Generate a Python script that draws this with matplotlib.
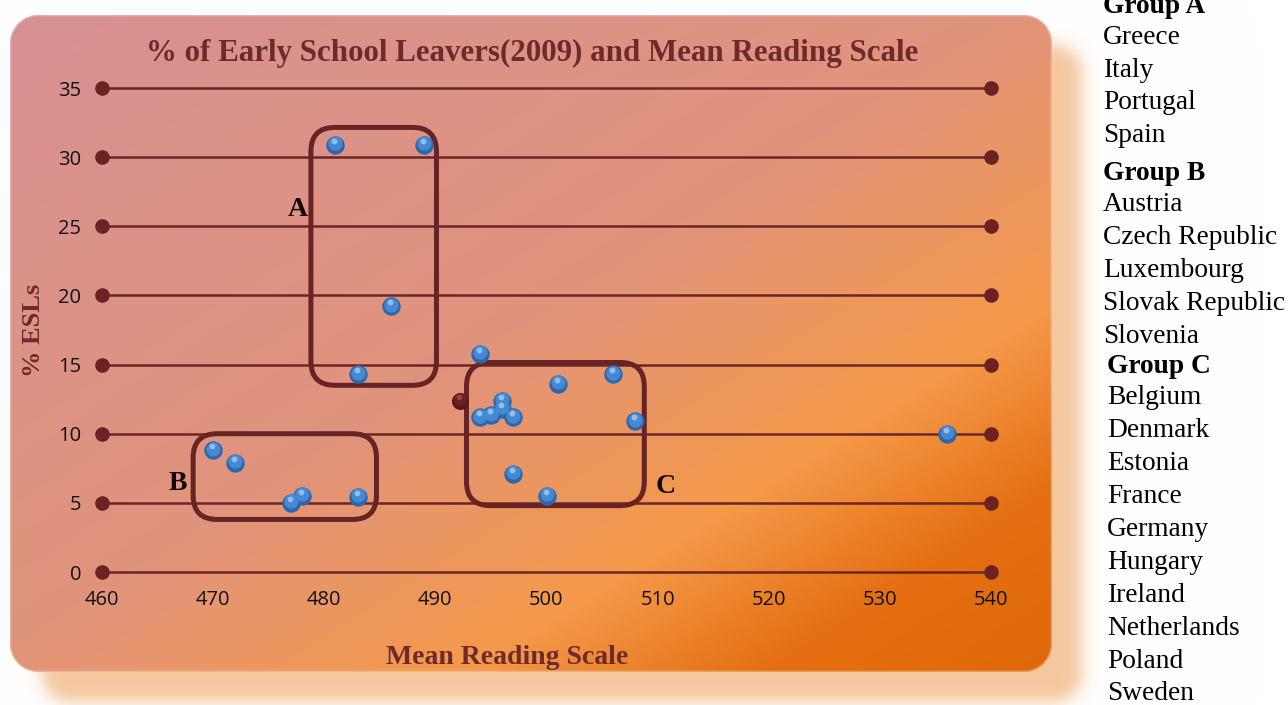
import numpy as np
import matplotlib
matplotlib.use("Agg")
import matplotlib.pyplot as plt
from matplotlib.patches import FancyBboxPatch
from matplotlib.transforms import ScaledTranslation

# ---------------- data ----------------
group_a_x = [481, 489, 486, 483]
group_a_y = [30.9, 30.9, 19.2, 14.3]
group_b_x = [470, 472, 477, 478, 483]
group_b_y = [8.8, 7.9, 5.0, 5.5, 5.45]
group_c_x = [494, 494, 495, 496, 496, 497, 501, 506, 508, 497, 500]
group_c_y = [15.8, 11.2, 11.35, 12.4, 11.8, 11.2, 13.6, 14.3, 10.9, 7.1, 5.5]
other_x = [536]
other_y = [10.0]
marked_x = [492.2]
marked_y = [12.4]

x_ticks = [460, 470, 480, 490, 500, 510, 520, 530, 540]
y_ticks = [0, 5, 10, 15, 20, 25, 30, 35]

# group frames (data units: x0, y0, x1, y1) and labels
frame_names = ["A", "B", "C"]
frame_extents = [(478.8, 13.5, 490.1, 32.15),
                 (468.2, 3.8, 484.7, 10.0),
                 (492.8, 4.8, 508.8, 15.15)]
label_pos = [(477.6, 26.2), (466.8, 6.4), (510.7, 6.2)]

title = "% of Early School Leavers(2009) and Mean Reading Scale"
xlabel = "Mean Reading Scale"
ylabel = "% ESLs"

side_lines = ["Group A", "Greece", "Italy", "Portugal", "Spain",
              "Group B", "Austria", "Czech Republic", "Luxembourg",
              "Slovak Republic", "Slovenia",
              "Group C", "Belgium", "Denmark", "Estonia", "France", "Germany",
              "Hungary", "Ireland", "Netherlands", "Poland", "Sweden"]
side_y = [5, 36, 69, 101, 134, 172, 203, 236, 269, 302, 335, 365, 396, 429,
          462, 495, 528, 561, 594, 627, 660, 692]

# ---------------- figure ----------------
W, H = 1288, 705
fig = plt.figure(figsize=(W / 100, H / 100), dpi=100)

# background: shadow + gradient rounded panel
yy, xx = np.mgrid[0:H, 0:W] + 0.5


def rr_sd(x0, y0, x1, y1, r):
    cx, cy = (x0 + x1) / 2, (y0 + y1) / 2
    bx, by = (x1 - x0) / 2, (y1 - y0) / 2
    qx = np.abs(xx - cx) - bx + r
    qy = np.abs(yy - cy) - by + r
    outside = np.sqrt(np.maximum(qx, 0) ** 2 + np.maximum(qy, 0) ** 2)
    inside = np.minimum(np.maximum(qx, qy), 0)
    return outside + inside - r


img = np.ones((H, W, 3))
sd_sh = rr_sd(42, 45, 1082, 702, 30)
a_sh = 1 / (1 + np.exp(np.clip(sd_sh / 5.0, -50, 50)))
sh_col = np.array([244, 199, 158]) / 255
img = img * (1 - a_sh[..., None]) + sh_col * a_sh[..., None]

bx0, by0, bx1, by1 = 10, 15, 1052, 672
sd_box = rr_sd(bx0, by0, bx1, by1, 28)
t = ((xx - bx0) / (bx1 - bx0) + (yy - by0) / (by1 - by0)) / 2
stops_t = [0.0, 0.48, 0.72, 0.86, 1.0]
stops_c = np.array([[216, 145, 148], [225, 148, 124], [245, 153, 74],
                    [229, 111, 18], [224, 104, 8]]) / 255
grad = np.stack([np.interp(t, stops_t, stops_c[:, k]) for k in range(3)], axis=-1)
a_box = np.clip(0.5 - sd_box, 0, 1)
img = img * (1 - a_box[..., None]) + grad * a_box[..., None]
ring = np.clip(1 - np.abs(sd_box + 0.7) / 1.2, 0, 1) * 0.45
img = img * (1 - ring[..., None]) + np.array([0.93, 0.91, 0.89]) * ring[..., None]

bg = fig.add_axes([0, 0, 1, 1], zorder=0)
bg.imshow(img, extent=(0, W, 0, H), origin="upper", interpolation="nearest",
          aspect="auto")
bg.set_xlim(0, W)
bg.set_ylim(0, H)
bg.axis("off")

# main axes
ax = fig.add_axes([102 / W, 133 / H, 889 / W, 484 / H], zorder=1)
ax.set_facecolor("none")
ax.set_xlim(x_ticks[0], x_ticks[-1])
ax.set_ylim(y_ticks[0], y_ticks[-1])
for s in ax.spines.values():
    s.set_visible(False)

grid_col = "#6b2626"
for yv in y_ticks:
    ax.plot([x_ticks[0], x_ticks[-1]], [yv, yv], color=grid_col, lw=1.8,
            marker="o", ms=9.5, mfc="#6b2222", mec="#6b2222",
            clip_on=False, zorder=1.5)

tick_font = ["Open Sans", "DejaVu Sans"]
ax.set_xticks(x_ticks)
ax.set_yticks(y_ticks)
ax.set_xticklabels([str(v) for v in x_ticks], family=tick_font, fontsize=14.5,
                   color="#111111")
ax.set_yticklabels([str(v) for v in y_ticks], family=tick_font, fontsize=14.5,
                   color="#111111")
ax.tick_params(axis="x", length=0, pad=13)
ax.tick_params(axis="y", length=0, pad=15)

# group frames
fig.canvas.draw()
for (x0, y0, x1, y1) in frame_extents:
    p0 = ax.transData.transform((x0, y0))
    p1 = ax.transData.transform((x1, y1))
    patch = FancyBboxPatch((p0[0], p0[1]), p1[0] - p0[0], p1[1] - p0[1],
                           boxstyle="round,pad=0,rounding_size=24",
                           fill=False, ec="#662424", lw=3.6,
                           transform=bg.transData, clip_on=False, zorder=2)
    ax.add_patch(patch)

for name, (lx, ly) in zip(frame_names, label_pos):
    ax.text(lx, ly, name, ha="center", va="center", fontsize=20,
            fontweight="bold", family="Liberation Serif", color="#140804",
            zorder=3)


# spheres
def balls(xs, ys, base, mid, hi, size=175):
    ax.scatter(xs, ys, s=size, c=base, lw=0, zorder=4, clip_on=False)
    off1 = ScaledTranslation(0, 1.5 / 100, fig.dpi_scale_trans)
    ax.scatter(xs, ys, s=size * 0.6, c=mid, lw=0, zorder=5, clip_on=False,
               transform=ax.transData + off1)
    off2 = ScaledTranslation(-1.0 / 100, 4.0 / 100, fig.dpi_scale_trans)
    ax.scatter(xs, ys, s=size * 0.1, c=hi, lw=0, zorder=6, clip_on=False,
               transform=ax.transData + off2, alpha=0.8)


all_x = group_a_x + group_b_x + group_c_x + other_x
all_y = group_a_y + group_b_y + group_c_y + other_y
balls(marked_x, marked_y, "#5a1818", "#6e2020", "#9a5050", size=150)
balls(all_x, all_y, "#2c67ad", "#4589d2", "#a9ccf0")

# titles
serif = ["Liberation Serif", "DejaVu Serif"]
fig.text(532 / W, 1 - 53 / H, title, ha="center", va="center", fontsize=22.3,
         fontweight="bold", family=serif, color="#6e2b2b")
fig.text(507 / W, 1 - 657 / H, xlabel, ha="center", va="center", fontsize=20,
         fontweight="bold", family=serif, color="#6e2b2b")
fig.text(34 / W, 1 - 330 / H, ylabel, ha="center", va="center", fontsize=19,
         fontweight="bold", family=serif, color="#6e2b2b", rotation=90)

# side list
in_c = False
for line, yc in zip(side_lines, side_y):
    if line == "Group C":
        in_c = True
    xpos = 1107 if in_c else 1103
    bold = line.startswith("Group")
    fig.text(xpos / W, 1 - (yc + 1.5) / H, line, ha="left", va="center",
             fontsize=19.7, fontweight="bold" if bold else "normal",
             family=serif, color="#000000")

fig.savefig("out.png", dpi=100)
